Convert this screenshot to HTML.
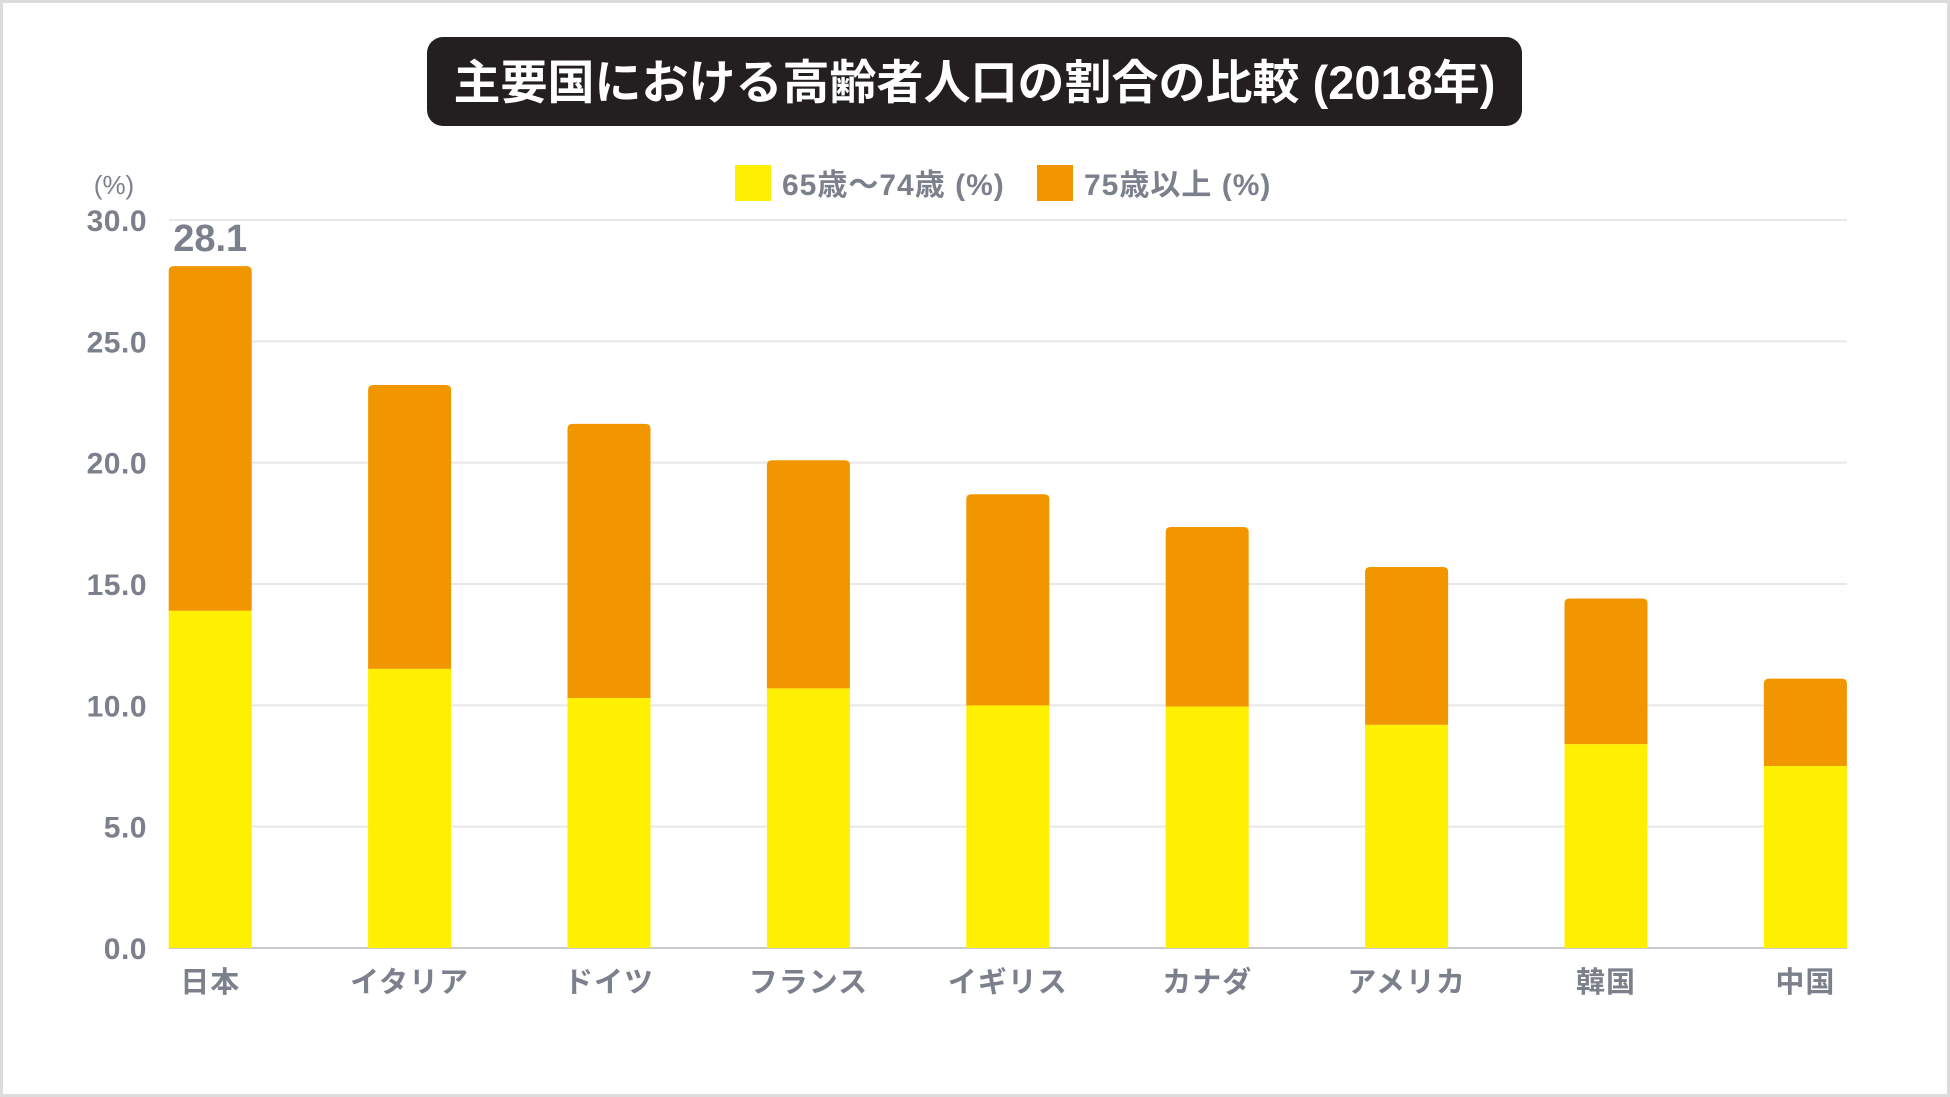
<!DOCTYPE html>
<html><head><meta charset="utf-8"><style>
html,body{margin:0;padding:0;background:#fff}
svg{display:block}
text{font-family:"Liberation Sans","Noto Sans CJK JP",sans-serif;font-weight:bold}
</style></head><body>
<svg id="chart" width="1950" height="1097" viewBox="0 0 1950 1097" xmlns="http://www.w3.org/2000/svg">
<rect x="1.5" y="1.5" width="1947" height="1094" fill="#fff" stroke="#dcdcdc" stroke-width="3"/>
<rect x="427" y="37" width="1095" height="89" rx="16" fill="#231f20"/>
<text x="974.5" y="99" text-anchor="middle" font-size="47" fill="#fff">主要国における高齢者人口の割合の比較 (2018年)</text>
<rect x="735" y="165" width="36" height="36" fill="#FFEF00"/>
<text x="782" y="195" font-size="30" letter-spacing="1" fill="#7b808c">65歳〜74歳 (%)</text>
<rect x="1037" y="165" width="36" height="36" fill="#F29600"/>
<text x="1084" y="195" font-size="30" letter-spacing="1" fill="#7b808c">75歳以上 (%)</text>
<text x="114" y="194" text-anchor="middle" font-size="26" style="font-weight:normal" fill="#7b808c">(%)</text>
<g id="grid"></g><g id="bars"></g><g id="labels"></g>
</svg>
<script>
const categories = ["日本","イタリア","ドイツ","フランス","イギリス","カナダ","アメリカ","韓国","中国"];
const age65to74 = [13.9,11.5,10.3,10.7,10.0,9.95,9.2,8.4,7.5];
const age75plus = [14.2,11.7,11.3,9.4,8.7,7.4,6.5,6.0,3.6];
const yTicks = [0,5,10,15,20,25,30];
const yTickLabels = ["0.0","5.0","10.0","15.0","20.0","25.0","30.0"];
const NS="http://www.w3.org/2000/svg";
const y0=948, yTop=220, yMax=30;
const xStart=110.5;
const band=199.4, barW=83;
function yScale(v){return y0-(v/yMax)*(y0-yTop);}
function xCenter(i){return xStart+band*(i+0.5);}
function mk(tag,attrs,parent){const e=document.createElementNS(NS,tag);for(const k in attrs)e.setAttribute(k,attrs[k]);parent.appendChild(e);return e;}
const grid=document.getElementById('grid'),bars=document.getElementById('bars'),labels=document.getElementById('labels');
yTicks.forEach((t,i)=>{
  const y=yScale(t);
  const l=mk('line',{x1:169,x2:1847,y1:y,y2:y,stroke:t===0?'#c8cad0':'#e8e8ea','stroke-width':2},grid);
  
  
  const tx=mk('text',{x:147,y:y+11,'text-anchor':'end','font-size':30,'letter-spacing':0.5,fill:'#7b808c'},labels);
  tx.textContent=yTickLabels[i];
  
  
});
categories.forEach((c,i)=>{
  const cx=xCenter(i), x=cx-barW/2;
  const yb=yScale(0), ym=yScale(age65to74[i]), yt=yScale(age65to74[i]+age75plus[i]);
  const r1=mk('rect',{x:x,y:ym,width:barW,height:yb-ym,fill:'#FFEF00'},bars);
  
  
  const r=5;
  const p=mk('path',{d:`M${x},${ym} V${yt+r} Q${x},${yt} ${x+r},${yt} H${x+barW-r} Q${x+barW},${yt} ${x+barW},${yt+r} V${ym} Z`,fill:'#F29600'},bars);
  
  
  const tl=mk('text',{x:cx,y:992,'text-anchor':'middle','font-size':29,'letter-spacing':1,fill:'#7b808c'},labels);
  tl.textContent=c;
  
  
  if(i===0){
    const v=mk('text',{x:cx,y:yt-15,'text-anchor':'middle','font-size':38,fill:'#7b808c'},labels);
    v.textContent=(age65to74[i]+age75plus[i]).toFixed(1);
    
    
  }
});
</script>
</body></html>
